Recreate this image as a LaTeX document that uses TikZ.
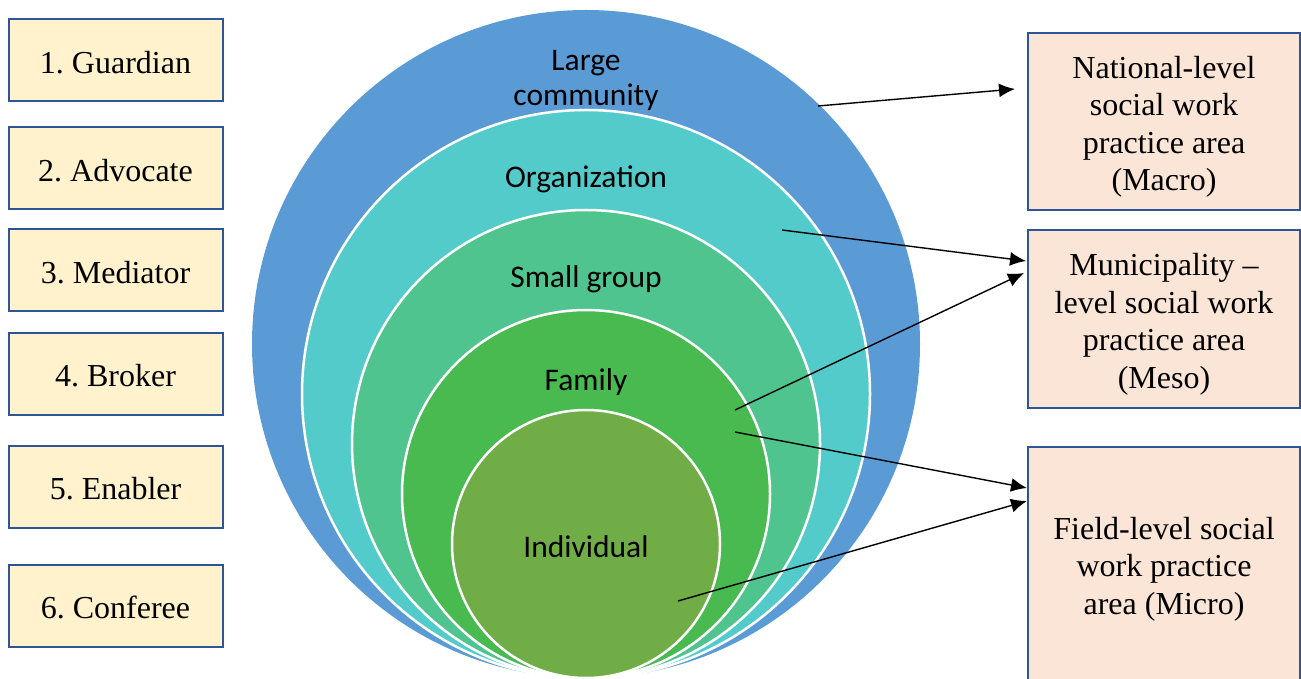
\documentclass[tikz,border=0pt]{standalone}
\usepackage{fontspec}
\setmainfont{Liberation Serif}
\newfontfamily\calfont{Carlito}
\usetikzlibrary{arrows.meta}
\frenchspacing
\newcommand\toppad{\rule{0pt}{33pt}}
\definecolor{ringblue}{RGB}{91,155,213}
\definecolor{ringteal}{RGB}{83,203,203}
\definecolor{ringmint}{RGB}{79,196,142}
\definecolor{ringgreen}{RGB}{72,186,80}
\definecolor{ringolive}{RGB}{112,173,71}
\definecolor{roleyellow}{RGB}{255,242,204}
\definecolor{areapink}{RGB}{251,229,214}
\definecolor{boxline}{RGB}{47,85,151}
\begin{document}
\begin{tikzpicture}[x=1pt,y=1pt,>={Latex[length=16pt,width=14pt]},
    role/.style={draw=boxline,fill=roleyellow,line width=2pt,minimum width=214pt,minimum height=82pt,font=\fontsize{32}{37}\selectfont,execute at begin node={\rule{0pt}{26pt}}},
    area/.style={draw=boxline,fill=areapink,line width=2pt,minimum width=272pt,align=center,font=\fontsize{32}{37.5}\selectfont},
    ring/.style={draw=white,line width=2.5pt},
    lvl/.style={font=\calfont\fontsize{31.5}{35}\selectfont,align=center}]
    \useasboundingbox (0,0) rectangle (1301,678);
    % nested levels
    \fill[ringblue](586,334) circle (334pt);
    \filldraw[ring,fill=ringteal](586,284) circle (284pt);
    \filldraw[ring,fill=ringmint](586,234) circle (234pt);
    \filldraw[ring,fill=ringgreen](586,184) circle (184pt);
    \filldraw[ring,fill=ringolive](586,134) circle (134pt);
    \node[lvl] (community) at (586,598) {Large\\community};
    \node[lvl] (organization) at (586,499) {Organization};
    \node[lvl] (smallgroup) at (586,399) {Small group};
    \node[lvl] (family) at (586,296) {Family};
    \node[lvl] (individual) at (586,131) {Individual};
    % roles
    \node[role] (guardian) at (115.5,617.5) {1. Guardian};
    \node[role] (advocate) at (115.5,509.5) {2. Advocate};
    \node[role] (mediator) at (115.5,407.5) {3. Mediator};
    \node[role] (broker) at (115.5,304) {4. Broker};
    \node[role] (enabler) at (115.5,191) {5. Enabler};
    \node[role] (conferee) at (115.5,72) {6. Conferee};
    % practice areas
    \node[area,minimum height=177pt] (macro) at (1164,556.5) {\toppad National-level\\social work\\practice area\\(Macro)};
    \node[area,minimum height=178pt] (meso) at (1164,359) {\toppad Municipality --\\level social work\\practice area\\(Meso)};
    \node[area,minimum height=238pt] (micro) at (1164,112) {\rule{0pt}{28pt}Field-level social\\work practice\\area (Micro)};
    % links
    \coordinate (s1) at (818,572);
    \coordinate (s2) at (782,448);
    \coordinate (s3) at (735,268);
    \coordinate (s4) at (735,246);
    \coordinate (s5) at (678,77);
    \draw[->,line width=1.4pt](s1)--([xshift=-12pt,yshift=-57pt]macro.north west);
    \draw[->,line width=1.4pt](s2)--([xshift=-1pt,yshift=-32pt]meso.north west);
    \draw[->,line width=1.4pt](s3)--([xshift=-3pt,yshift=-44pt]meso.north west);
    \draw[->,line width=1.4pt](s4)--([yshift=-42pt]micro.north west);
    \draw[->,line width=1.4pt](s5)--([yshift=-55pt]micro.north west);
\end{tikzpicture}
\end{document}
